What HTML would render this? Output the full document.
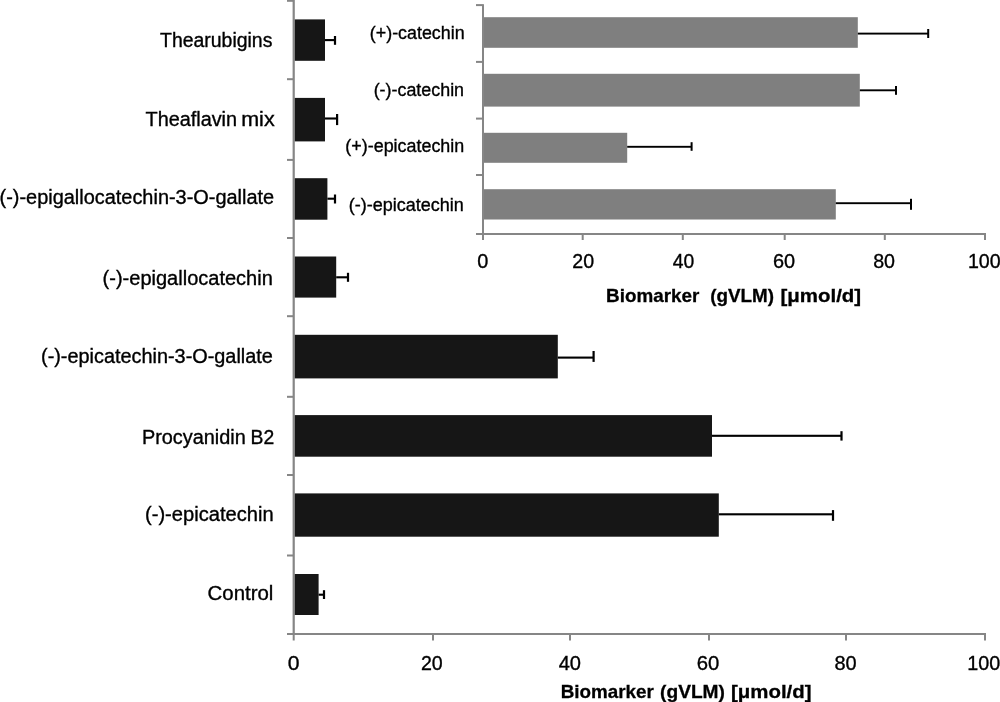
<!DOCTYPE html>
<html><head><meta charset="utf-8"><title>Biomarker chart</title>
<style>html,body{margin:0;padding:0;background:#fff;}svg{display:block;}
text{font-family:"Liberation Sans", sans-serif;fill:#000;white-space:pre;stroke:#000;stroke-width:0.35px;}text[font-weight="700"]{stroke-width:0.3px;}svg{filter:grayscale(1);}</style></head>
<body><svg width="1000" height="702" viewBox="0 0 1000 702">
<rect x="292.60" y="0.00" width="2.20" height="635.00" fill="#868686"/>
<rect x="287.00" y="-0.20" width="6.00" height="2.00" fill="#868686"/>
<rect x="287.00" y="78.20" width="6.00" height="2.00" fill="#868686"/>
<rect x="287.00" y="158.90" width="6.00" height="2.00" fill="#868686"/>
<rect x="287.00" y="237.00" width="6.00" height="2.00" fill="#868686"/>
<rect x="287.00" y="315.20" width="6.00" height="2.00" fill="#868686"/>
<rect x="287.00" y="395.80" width="6.00" height="2.00" fill="#868686"/>
<rect x="287.00" y="474.00" width="6.00" height="2.00" fill="#868686"/>
<rect x="287.00" y="554.50" width="6.00" height="2.00" fill="#868686"/>
<rect x="287.00" y="633.00" width="699.00" height="2.00" fill="#868686"/>
<rect x="292.70" y="633.00" width="2.00" height="7.50" fill="#868686"/>
<rect x="432.00" y="633.00" width="2.00" height="7.50" fill="#868686"/>
<rect x="569.00" y="633.00" width="2.00" height="7.50" fill="#868686"/>
<rect x="708.00" y="633.00" width="2.00" height="7.50" fill="#868686"/>
<rect x="845.00" y="633.00" width="2.00" height="7.50" fill="#868686"/>
<rect x="984.00" y="633.00" width="2.00" height="7.50" fill="#868686"/>
<rect x="294.80" y="19.40" width="30.20" height="41.40" fill="#161616"/>
<rect x="325.00" y="39.05" width="10.00" height="2.10" fill="#000"/>
<rect x="333.90" y="36.00" width="2.20" height="8.80" fill="#000"/>
<rect x="294.80" y="97.90" width="30.20" height="43.50" fill="#161616"/>
<rect x="325.00" y="117.45" width="12.10" height="2.10" fill="#000"/>
<rect x="336.00" y="114.00" width="2.20" height="11.10" fill="#000"/>
<rect x="294.80" y="178.20" width="32.60" height="41.50" fill="#161616"/>
<rect x="327.40" y="197.65" width="7.60" height="2.10" fill="#000"/>
<rect x="333.90" y="194.50" width="2.20" height="9.00" fill="#000"/>
<rect x="294.80" y="256.50" width="41.40" height="41.10" fill="#161616"/>
<rect x="336.20" y="276.25" width="11.80" height="2.10" fill="#000"/>
<rect x="346.90" y="272.80" width="2.20" height="9.00" fill="#000"/>
<rect x="294.80" y="334.80" width="263.00" height="43.60" fill="#161616"/>
<rect x="557.80" y="356.55" width="35.80" height="2.10" fill="#000"/>
<rect x="592.50" y="351.00" width="2.20" height="10.90" fill="#000"/>
<rect x="294.80" y="415.10" width="417.20" height="41.60" fill="#161616"/>
<rect x="712.00" y="434.75" width="129.50" height="2.10" fill="#000"/>
<rect x="840.40" y="431.20" width="2.20" height="9.40" fill="#000"/>
<rect x="294.80" y="493.40" width="424.00" height="43.30" fill="#161616"/>
<rect x="718.80" y="513.25" width="114.20" height="2.10" fill="#000"/>
<rect x="831.90" y="510.10" width="2.20" height="10.70" fill="#000"/>
<rect x="294.80" y="574.00" width="23.80" height="41.00" fill="#161616"/>
<rect x="318.60" y="593.65" width="5.40" height="2.10" fill="#000"/>
<rect x="322.90" y="590.20" width="2.20" height="8.80" fill="#000"/>
<rect x="482.00" y="4.20" width="2.00" height="231.00" fill="#868686"/>
<rect x="476.00" y="4.10" width="6.50" height="2.00" fill="#868686"/>
<rect x="476.00" y="60.90" width="6.50" height="2.00" fill="#868686"/>
<rect x="476.00" y="117.60" width="6.50" height="2.00" fill="#868686"/>
<rect x="476.00" y="174.00" width="6.50" height="2.00" fill="#868686"/>
<rect x="476.00" y="233.00" width="510.00" height="2.00" fill="#868686"/>
<rect x="482.00" y="233.00" width="2.00" height="7.00" fill="#868686"/>
<rect x="581.70" y="233.00" width="2.00" height="7.00" fill="#868686"/>
<rect x="681.80" y="233.00" width="2.00" height="7.00" fill="#868686"/>
<rect x="783.70" y="233.00" width="2.00" height="7.00" fill="#868686"/>
<rect x="883.80" y="233.00" width="2.00" height="7.00" fill="#868686"/>
<rect x="984.00" y="233.00" width="2.00" height="7.00" fill="#868686"/>
<rect x="484.00" y="17.20" width="373.80" height="30.60" fill="#7f7f7f"/>
<rect x="857.80" y="32.65" width="70.40" height="1.90" fill="#000"/>
<rect x="927.20" y="29.00" width="2.00" height="9.00" fill="#000"/>
<rect x="484.00" y="73.80" width="375.80" height="32.80" fill="#7f7f7f"/>
<rect x="859.80" y="89.35" width="36.20" height="1.90" fill="#000"/>
<rect x="895.00" y="86.00" width="2.00" height="8.80" fill="#000"/>
<rect x="484.00" y="132.80" width="143.20" height="30.00" fill="#7f7f7f"/>
<rect x="627.20" y="145.85" width="64.40" height="1.90" fill="#000"/>
<rect x="690.60" y="142.20" width="2.00" height="8.60" fill="#000"/>
<rect x="484.00" y="189.20" width="351.80" height="30.30" fill="#7f7f7f"/>
<rect x="835.80" y="202.25" width="75.20" height="1.90" fill="#000"/>
<rect x="910.00" y="198.80" width="2.00" height="11.00" fill="#000"/>
<text x="160.03" y="47.40" font-size="19.5" font-weight="400" textLength="112.33" lengthAdjust="spacingAndGlyphs">Thearubigins</text>
<text x="145.52" y="125.60" font-size="19.5" font-weight="400" textLength="91.55" lengthAdjust="spacingAndGlyphs">Theaflavin</text>
<text x="241.22" y="125.60" font-size="19.5" font-weight="400" textLength="33.42" lengthAdjust="spacingAndGlyphs">mix</text>
<text x="-0.48" y="204.30" font-size="19.5" font-weight="400" textLength="274.64" lengthAdjust="spacingAndGlyphs">(-)-epigallocatechin-3-O-gallate</text>
<text x="102.61" y="284.60" font-size="19.5" font-weight="400" textLength="170.22" lengthAdjust="spacingAndGlyphs">(-)-epigallocatechin</text>
<text x="41.02" y="362.50" font-size="19.5" font-weight="400" textLength="231.84" lengthAdjust="spacingAndGlyphs">(-)-epicatechin-3-O-gallate</text>
<text x="141.94" y="443.50" font-size="19.5" font-weight="400" textLength="103.85" lengthAdjust="spacingAndGlyphs">Procyanidin</text>
<text x="250.49" y="443.50" font-size="19.5" font-weight="400" textLength="23.65" lengthAdjust="spacingAndGlyphs">B2</text>
<text x="145.01" y="521.40" font-size="19.5" font-weight="400" textLength="128.65" lengthAdjust="spacingAndGlyphs">(-)-epicatechin</text>
<text x="207.55" y="600.00" font-size="19.5" font-weight="400" textLength="65.84" lengthAdjust="spacingAndGlyphs">Control</text>
<text x="369.85" y="39.00" font-size="17.5" font-weight="400" textLength="94.76" lengthAdjust="spacingAndGlyphs">(+)-catechin</text>
<text x="373.65" y="95.60" font-size="17.5" font-weight="400" textLength="90.43" lengthAdjust="spacingAndGlyphs">(-)-catechin</text>
<text x="345.35" y="151.80" font-size="17.5" font-weight="400" textLength="118.88" lengthAdjust="spacingAndGlyphs">(+)-epicatechin</text>
<text x="348.84" y="210.60" font-size="17.5" font-weight="400" textLength="115.02" lengthAdjust="spacingAndGlyphs">(-)-epicatechin</text>
<text x="287.79" y="670.20" font-size="20" font-weight="400" textLength="11.76" lengthAdjust="spacingAndGlyphs">0</text>
<text x="420.91" y="670.20" font-size="20" font-weight="400" textLength="21.81" lengthAdjust="spacingAndGlyphs">20</text>
<text x="558.70" y="670.20" font-size="20" font-weight="400" textLength="22.34" lengthAdjust="spacingAndGlyphs">40</text>
<text x="696.68" y="670.20" font-size="20" font-weight="400" textLength="22.57" lengthAdjust="spacingAndGlyphs">60</text>
<text x="834.46" y="670.20" font-size="20" font-weight="400" textLength="22.18" lengthAdjust="spacingAndGlyphs">80</text>
<text x="967.25" y="670.20" font-size="20" font-weight="400" textLength="32.98" lengthAdjust="spacingAndGlyphs">100</text>
<text x="477.24" y="267.70" font-size="20" font-weight="400" textLength="11.07" lengthAdjust="spacingAndGlyphs">0</text>
<text x="572.31" y="267.70" font-size="20" font-weight="400" textLength="21.81" lengthAdjust="spacingAndGlyphs">20</text>
<text x="672.72" y="267.70" font-size="20" font-weight="400" textLength="21.49" lengthAdjust="spacingAndGlyphs">40</text>
<text x="772.89" y="267.70" font-size="20" font-weight="400" textLength="22.14" lengthAdjust="spacingAndGlyphs">60</text>
<text x="873.17" y="267.70" font-size="20" font-weight="400" textLength="21.85" lengthAdjust="spacingAndGlyphs">80</text>
<text x="967.96" y="267.70" font-size="20" font-weight="400" textLength="32.76" lengthAdjust="spacingAndGlyphs">100</text>
<text x="560.74" y="697.70" font-size="19" font-weight="700" textLength="93.09" lengthAdjust="spacingAndGlyphs">Biomarker</text>
<text x="660.11" y="697.70" font-size="19" font-weight="700" textLength="64.83" lengthAdjust="spacingAndGlyphs">(gVLM)</text>
<text x="731.02" y="697.70" font-size="19" font-weight="700" textLength="80.53" lengthAdjust="spacingAndGlyphs">[μmol/d]</text>
<text x="606.04" y="302.10" font-size="19" font-weight="700" textLength="93.29" lengthAdjust="spacingAndGlyphs">Biomarker</text>
<text x="710.13" y="302.10" font-size="19" font-weight="700" textLength="63.80" lengthAdjust="spacingAndGlyphs">(gVLM)</text>
<text x="780.52" y="302.10" font-size="19" font-weight="700" textLength="80.64" lengthAdjust="spacingAndGlyphs">[μmol/d]</text>
</svg></body></html>
